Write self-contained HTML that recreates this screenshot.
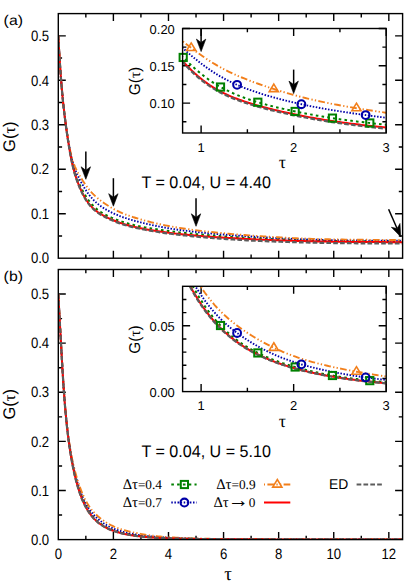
<!DOCTYPE html>
<html><head><meta charset="utf-8"><title>G(tau)</title>
<style>html,body{margin:0;padding:0;background:#fff}svg{display:block}text{fill:#000;text-rendering:geometricPrecision}</style>
</head><body>
<svg width="415" height="581" viewBox="0 0 415 581">
<rect width="415" height="581" fill="#fff"/>
<defs>
<clipPath id="ca"><rect x="58.30" y="13.60" width="344.30" height="244.60"/></clipPath>
<clipPath id="cb"><rect x="58.30" y="269.50" width="344.30" height="270.10"/></clipPath>
<clipPath id="cia"><rect x="182.60" y="28.50" width="203.60" height="104.50"/></clipPath>
<clipPath id="cib"><rect x="182.60" y="286.30" width="203.60" height="105.30"/></clipPath>
</defs>
<path d="M113.39,258.20v-7.5 M113.39,13.60v7.5 M168.48,258.20v-7.5 M168.48,13.60v7.5 M223.56,258.20v-7.5 M223.56,13.60v7.5 M278.65,258.20v-7.5 M278.65,13.60v7.5 M333.74,258.20v-7.5 M333.74,13.60v7.5 M388.83,258.20v-7.5 M388.83,13.60v7.5 M85.84,258.20v-3.8 M85.84,13.60v3.8 M140.93,258.20v-3.8 M140.93,13.60v3.8 M196.02,258.20v-3.8 M196.02,13.60v3.8 M251.11,258.20v-3.8 M251.11,13.60v3.8 M306.20,258.20v-3.8 M306.20,13.60v3.8 M361.28,258.20v-3.8 M361.28,13.60v3.8 M58.30,213.73h7.5 M402.60,213.73h-7.5 M58.30,169.25h7.5 M402.60,169.25h-7.5 M58.30,124.78h7.5 M402.60,124.78h-7.5 M58.30,80.31h7.5 M402.60,80.31h-7.5 M58.30,35.84h7.5 M402.60,35.84h-7.5 M58.30,235.96h3.8 M402.60,235.96h-3.8 M58.30,191.49h3.8 M402.60,191.49h-3.8 M58.30,147.02h3.8 M402.60,147.02h-3.8 M58.30,102.55h3.8 M402.60,102.55h-3.8 M58.30,58.07h3.8 M402.60,58.07h-3.8 " stroke="#000" stroke-width="1.4" fill="none"/>
<g clip-path="url(#ca)">
<path d="M58.30,35.77 L58.31,35.91 L58.33,36.31 L58.36,36.98 L58.41,37.92 L58.48,39.12 L58.56,40.57 L58.65,42.27 L58.76,44.20 L58.88,46.36 L59.02,48.73 L59.17,51.29 L59.33,54.05 L59.51,56.97 L59.71,60.04 L59.92,63.24 L60.14,66.57 L60.37,70.00 L60.63,73.51 L60.89,77.09 L61.17,80.72 L61.47,84.39 L61.77,88.07 L62.10,91.74 L62.43,95.40 L62.79,99.04 L63.15,102.63 L63.53,106.20 L63.93,109.73 L64.34,113.22 L64.76,116.70 L65.20,120.16 L65.65,123.60 L66.12,127.04 L66.60,130.46 L67.09,133.88 L67.60,137.29 L68.13,140.68 L68.67,144.05 L69.22,147.37 L69.79,150.63 L70.37,153.81 L70.96,156.87 L71.57,159.80 L72.20,162.60 L72.84,165.25 L73.49,167.75 L74.16,170.12 L74.84,172.36 L75.54,174.49 L76.25,176.50 L76.97,178.43 L77.71,180.28 L78.47,182.06 L79.23,183.79 L80.02,185.47 L80.81,187.11 L81.62,188.72 L82.45,190.31 L83.29,191.86 L84.14,193.39 L85.01,194.89 L85.90,196.34 L86.79,197.75 L87.70,199.11 L88.63,200.42 L89.57,201.66 L90.53,202.85 L91.49,203.98 L92.48,205.06 L93.48,206.08 L94.49,207.05 L95.51,207.98 L96.56,208.86 L97.61,209.70 L98.68,210.51 L99.76,211.28 L100.86,212.02 L101.98,212.73 L103.10,213.42 L104.24,214.08 L105.40,214.72 L106.57,215.34 L107.75,215.94 L108.95,216.52 L110.17,217.09 L111.39,217.64 L112.64,218.18 L113.89,218.71 L115.16,219.22 L116.45,219.73 L117.75,220.22 L119.06,220.70 L120.39,221.17 L121.73,221.63 L123.09,222.07 L124.46,222.50 L125.84,222.92 L127.24,223.33 L128.66,223.72 L130.09,224.11 L131.53,224.48 L132.99,224.84 L134.46,225.19 L135.95,225.53 L137.45,225.86 L138.96,226.18 L140.49,226.49 L142.03,226.80 L143.59,227.09 L145.16,227.39 L146.75,227.67 L148.35,227.96 L149.97,228.23 L151.60,228.50 L153.24,228.77 L154.90,229.04 L156.57,229.30 L158.26,229.56 L159.96,229.81 L161.67,230.06 L163.40,230.31 L165.15,230.55 L166.91,230.79 L168.68,231.03 L170.47,231.26 L172.27,231.49 L174.09,231.71 L175.92,231.94 L177.76,232.16 L179.62,232.37 L181.49,232.58 L183.38,232.79 L185.28,233.00 L187.20,233.20 L189.13,233.40 L191.08,233.60 L193.04,233.79 L195.01,233.98 L197.00,234.17 L199.00,234.36 L201.02,234.54 L203.05,234.72 L205.10,234.90 L207.16,235.07 L209.23,235.24 L211.32,235.41 L213.43,235.58 L215.54,235.75 L217.68,235.91 L219.82,236.07 L221.98,236.23 L224.16,236.38 L226.35,236.53 L228.55,236.68 L230.77,236.83 L233.00,236.97 L235.25,237.12 L237.51,237.26 L239.79,237.40 L242.08,237.53 L244.38,237.67 L246.70,237.80 L249.03,237.93 L251.38,238.06 L253.74,238.19 L256.12,238.31 L258.51,238.43 L260.91,238.55 L263.33,238.67 L265.77,238.79 L268.21,238.90 L270.68,239.02 L273.15,239.13 L275.64,239.24 L278.15,239.35 L280.67,239.45 L283.20,239.55 L285.75,239.65 L288.31,239.75 L290.89,239.84 L293.48,239.94 L296.09,240.02 L298.71,240.11 L301.34,240.19 L303.99,240.28 L306.66,240.35 L309.33,240.43 L312.03,240.50 L314.73,240.57 L317.45,240.63 L320.19,240.70 L322.94,240.76 L325.70,240.82 L328.48,240.87 L331.27,240.92 L334.08,240.97 L336.90,241.02 L339.74,241.06 L342.59,241.11 L345.45,241.15 L348.33,241.19 L351.22,241.22 L354.13,241.25 L357.05,241.29 L359.99,241.32 L362.94,241.34 L365.90,241.37 L368.88,241.40 L371.87,241.42 L374.88,241.44 L377.91,241.46 L380.94,241.48 L383.99,241.49 L387.06,241.51 L390.14,241.52 L393.23,241.54 L396.34,241.55 L399.46,241.56 L402.60,241.57" stroke="#008000" stroke-width="2" stroke-dasharray="2.6 3.2" fill="none"/>
<path d="M58.30,35.77 L58.31,35.91 L58.33,36.31 L58.36,36.98 L58.41,37.92 L58.48,39.12 L58.56,40.57 L58.65,42.27 L58.76,44.20 L58.88,46.36 L59.02,48.73 L59.17,51.29 L59.33,54.05 L59.51,56.97 L59.71,60.04 L59.92,63.24 L60.14,66.57 L60.37,70.00 L60.63,73.51 L60.89,77.09 L61.17,80.72 L61.47,84.39 L61.77,88.07 L62.10,91.75 L62.43,95.41 L62.79,99.04 L63.15,102.65 L63.53,106.21 L63.93,109.74 L64.34,113.23 L64.76,116.70 L65.20,120.14 L65.65,123.56 L66.12,126.95 L66.60,130.32 L67.09,133.66 L67.60,136.96 L68.13,140.21 L68.67,143.40 L69.22,146.52 L69.79,149.54 L70.37,152.44 L70.96,155.22 L71.57,157.84 L72.20,160.31 L72.84,162.63 L73.49,164.81 L74.16,166.84 L74.84,168.76 L75.54,170.57 L76.25,172.30 L76.97,173.97 L77.71,175.57 L78.47,177.14 L79.23,178.68 L80.02,180.19 L80.81,181.67 L81.62,183.14 L82.45,184.59 L83.29,186.03 L84.14,187.44 L85.01,188.83 L85.90,190.19 L86.79,191.53 L87.70,192.84 L88.63,194.11 L89.57,195.35 L90.53,196.55 L91.49,197.70 L92.48,198.81 L93.48,199.88 L94.49,200.91 L95.51,201.89 L96.56,202.83 L97.61,203.73 L98.68,204.60 L99.76,205.43 L100.86,206.22 L101.98,206.99 L103.10,207.73 L104.24,208.45 L105.40,209.15 L106.57,209.82 L107.75,210.48 L108.95,211.13 L110.17,211.76 L111.39,212.37 L112.64,212.97 L113.89,213.55 L115.16,214.13 L116.45,214.69 L117.75,215.23 L119.06,215.76 L120.39,216.28 L121.73,216.78 L123.09,217.27 L124.46,217.74 L125.84,218.20 L127.24,218.64 L128.66,219.08 L130.09,219.51 L131.53,219.93 L132.99,220.34 L134.46,220.75 L135.95,221.15 L137.45,221.54 L138.96,221.93 L140.49,222.32 L142.03,222.71 L143.59,223.09 L145.16,223.47 L146.75,223.85 L148.35,224.23 L149.97,224.60 L151.60,224.96 L153.24,225.33 L154.90,225.68 L156.57,226.03 L158.26,226.38 L159.96,226.72 L161.67,227.05 L163.40,227.37 L165.15,227.69 L166.91,228.00 L168.68,228.30 L170.47,228.59 L172.27,228.88 L174.09,229.16 L175.92,229.43 L177.76,229.69 L179.62,229.95 L181.49,230.20 L183.38,230.45 L185.28,230.69 L187.20,230.93 L189.13,231.16 L191.08,231.39 L193.04,231.61 L195.01,231.83 L197.00,232.04 L199.00,232.25 L201.02,232.46 L203.05,232.67 L205.10,232.87 L207.16,233.07 L209.23,233.26 L211.32,233.46 L213.43,233.65 L215.54,233.84 L217.68,234.02 L219.82,234.21 L221.98,234.39 L224.16,234.57 L226.35,234.74 L228.55,234.92 L230.77,235.09 L233.00,235.26 L235.25,235.43 L237.51,235.59 L239.79,235.76 L242.08,235.92 L244.38,236.08 L246.70,236.24 L249.03,236.40 L251.38,236.55 L253.74,236.71 L256.12,236.86 L258.51,237.01 L260.91,237.16 L263.33,237.31 L265.77,237.45 L268.21,237.60 L270.68,237.74 L273.15,237.88 L275.64,238.01 L278.15,238.15 L280.67,238.28 L283.20,238.41 L285.75,238.53 L288.31,238.65 L290.89,238.77 L293.48,238.89 L296.09,239.00 L298.71,239.10 L301.34,239.21 L303.99,239.31 L306.66,239.40 L309.33,239.49 L312.03,239.58 L314.73,239.67 L317.45,239.74 L320.19,239.82 L322.94,239.89 L325.70,239.96 L328.48,240.02 L331.27,240.08 L334.08,240.14 L336.90,240.20 L339.74,240.25 L342.59,240.29 L345.45,240.34 L348.33,240.38 L351.22,240.42 L354.13,240.45 L357.05,240.49 L359.99,240.52 L362.94,240.55 L365.90,240.58 L368.88,240.60 L371.87,240.62 L374.88,240.65 L377.91,240.67 L380.94,240.68 L383.99,240.70 L387.06,240.72 L390.14,240.73 L393.23,240.74 L396.34,240.75 L399.46,240.77 L402.60,240.78" stroke="#0000a8" stroke-width="1.9" stroke-dasharray="1.5 1.6" fill="none"/>
<path d="M58.30,35.77 L58.31,35.91 L58.33,36.31 L58.36,36.98 L58.41,37.92 L58.48,39.12 L58.56,40.57 L58.65,42.27 L58.76,44.20 L58.88,46.36 L59.02,48.73 L59.17,51.29 L59.33,54.05 L59.51,56.97 L59.71,60.04 L59.92,63.24 L60.14,66.57 L60.37,70.00 L60.63,73.51 L60.89,77.09 L61.17,80.73 L61.47,84.39 L61.77,88.07 L62.10,91.75 L62.43,95.42 L62.79,99.05 L63.15,102.66 L63.53,106.22 L63.93,109.75 L64.34,113.24 L64.76,116.69 L65.20,120.12 L65.65,123.51 L66.12,126.87 L66.60,130.18 L67.09,133.44 L67.60,136.63 L68.13,139.76 L68.67,142.80 L69.22,145.75 L69.79,148.58 L70.37,151.29 L70.96,153.87 L71.57,156.30 L72.20,158.59 L72.84,160.73 L73.49,162.74 L74.16,164.61 L74.84,166.36 L75.54,168.00 L76.25,169.54 L76.97,171.00 L77.71,172.40 L78.47,173.74 L79.23,175.05 L80.02,176.34 L80.81,177.61 L81.62,178.88 L82.45,180.16 L83.29,181.43 L84.14,182.70 L85.01,183.97 L85.90,185.22 L86.79,186.46 L87.70,187.69 L88.63,188.89 L89.57,190.05 L90.53,191.19 L91.49,192.29 L92.48,193.36 L93.48,194.39 L94.49,195.38 L95.51,196.34 L96.56,197.27 L97.61,198.17 L98.68,199.05 L99.76,199.90 L100.86,200.74 L101.98,201.56 L103.10,202.37 L104.24,203.17 L105.40,203.96 L106.57,204.74 L107.75,205.50 L108.95,206.25 L110.17,206.99 L111.39,207.71 L112.64,208.42 L113.89,209.11 L115.16,209.78 L116.45,210.44 L117.75,211.08 L119.06,211.70 L120.39,212.30 L121.73,212.89 L123.09,213.45 L124.46,214.01 L125.84,214.54 L127.24,215.06 L128.66,215.57 L130.09,216.07 L131.53,216.56 L132.99,217.04 L134.46,217.51 L135.95,217.98 L137.45,218.44 L138.96,218.89 L140.49,219.34 L142.03,219.78 L143.59,220.21 L145.16,220.64 L146.75,221.07 L148.35,221.49 L149.97,221.90 L151.60,222.31 L153.24,222.71 L154.90,223.11 L156.57,223.50 L158.26,223.88 L159.96,224.25 L161.67,224.62 L163.40,224.98 L165.15,225.34 L166.91,225.68 L168.68,226.02 L170.47,226.35 L172.27,226.68 L174.09,227.00 L175.92,227.31 L177.76,227.61 L179.62,227.91 L181.49,228.20 L183.38,228.49 L185.28,228.77 L187.20,229.04 L189.13,229.31 L191.08,229.58 L193.04,229.84 L195.01,230.10 L197.00,230.35 L199.00,230.60 L201.02,230.84 L203.05,231.08 L205.10,231.32 L207.16,231.56 L209.23,231.79 L211.32,232.01 L213.43,232.23 L215.54,232.45 L217.68,232.67 L219.82,232.88 L221.98,233.09 L224.16,233.30 L226.35,233.50 L228.55,233.70 L230.77,233.90 L233.00,234.10 L235.25,234.29 L237.51,234.48 L239.79,234.66 L242.08,234.85 L244.38,235.03 L246.70,235.21 L249.03,235.38 L251.38,235.56 L253.74,235.73 L256.12,235.90 L258.51,236.06 L260.91,236.23 L263.33,236.39 L265.77,236.55 L268.21,236.71 L270.68,236.86 L273.15,237.01 L275.64,237.16 L278.15,237.31 L280.67,237.45 L283.20,237.59 L285.75,237.72 L288.31,237.85 L290.89,237.98 L293.48,238.10 L296.09,238.22 L298.71,238.33 L301.34,238.44 L303.99,238.55 L306.66,238.65 L309.33,238.74 L312.03,238.83 L314.73,238.92 L317.45,239.00 L320.19,239.08 L322.94,239.15 L325.70,239.22 L328.48,239.28 L331.27,239.34 L334.08,239.40 L336.90,239.45 L339.74,239.50 L342.59,239.55 L345.45,239.59 L348.33,239.63 L351.22,239.67 L354.13,239.70 L357.05,239.73 L359.99,239.76 L362.94,239.79 L365.90,239.81 L368.88,239.84 L371.87,239.86 L374.88,239.88 L377.91,239.89 L380.94,239.91 L383.99,239.92 L387.06,239.94 L390.14,239.95 L393.23,239.96 L396.34,239.97 L399.46,239.98 L402.60,239.99" stroke="#f27f1b" stroke-width="1.9" stroke-dasharray="6.7 2.4 1.3 2.2 1.3 2.3" fill="none"/>
<path d="M58.30,35.77 L58.31,35.91 L58.33,36.31 L58.36,36.98 L58.41,37.92 L58.48,39.12 L58.56,40.57 L58.65,42.27 L58.76,44.20 L58.88,46.36 L59.02,48.73 L59.17,51.29 L59.33,54.05 L59.51,56.97 L59.71,60.04 L59.92,63.24 L60.14,66.57 L60.37,70.00 L60.63,73.51 L60.89,77.09 L61.17,80.72 L61.47,84.39 L61.77,88.07 L62.10,91.74 L62.43,95.40 L62.79,99.03 L63.15,102.63 L63.53,106.19 L63.93,109.72 L64.34,113.22 L64.76,116.70 L65.20,120.17 L65.65,123.63 L66.12,127.08 L66.60,130.53 L67.09,133.99 L67.60,137.44 L68.13,140.88 L68.67,144.31 L69.22,147.70 L69.79,151.03 L70.37,154.29 L70.96,157.45 L71.57,160.48 L72.20,163.38 L72.84,166.14 L73.49,168.77 L74.16,171.26 L74.84,173.63 L75.54,175.89 L76.25,178.06 L76.97,180.14 L77.71,182.16 L78.47,184.11 L79.23,186.01 L80.02,187.86 L80.81,189.65 L81.62,191.40 L82.45,193.09 L83.29,194.73 L84.14,196.32 L85.01,197.84 L85.90,199.30 L86.79,200.69 L87.70,202.02 L88.63,203.28 L89.57,204.47 L90.53,205.60 L91.49,206.66 L92.48,207.67 L93.48,208.62 L94.49,209.52 L95.51,210.37 L96.56,211.18 L97.61,211.96 L98.68,212.69 L99.76,213.40 L100.86,214.08 L101.98,214.74 L103.10,215.38 L104.24,216.00 L105.40,216.60 L106.57,217.20 L107.75,217.78 L108.95,218.34 L110.17,218.90 L111.39,219.45 L112.64,219.98 L113.89,220.51 L115.16,221.02 L116.45,221.52 L117.75,222.01 L119.06,222.49 L120.39,222.95 L121.73,223.40 L123.09,223.84 L124.46,224.26 L125.84,224.67 L127.24,225.07 L128.66,225.46 L130.09,225.83 L131.53,226.20 L132.99,226.55 L134.46,226.90 L135.95,227.23 L137.45,227.56 L138.96,227.89 L140.49,228.20 L142.03,228.51 L143.59,228.81 L145.16,229.11 L146.75,229.40 L148.35,229.69 L149.97,229.97 L151.60,230.24 L153.24,230.51 L154.90,230.78 L156.57,231.04 L158.26,231.30 L159.96,231.55 L161.67,231.80 L163.40,232.04 L165.15,232.28 L166.91,232.51 L168.68,232.74 L170.47,232.97 L172.27,233.19 L174.09,233.40 L175.92,233.62 L177.76,233.83 L179.62,234.03 L181.49,234.23 L183.38,234.43 L185.28,234.62 L187.20,234.81 L189.13,235.00 L191.08,235.18 L193.04,235.36 L195.01,235.54 L197.00,235.71 L199.00,235.88 L201.02,236.05 L203.05,236.21 L205.10,236.38 L207.16,236.53 L209.23,236.69 L211.32,236.85 L213.43,237.00 L215.54,237.15 L217.68,237.29 L219.82,237.44 L221.98,237.58 L224.16,237.72 L226.35,237.85 L228.55,237.99 L230.77,238.12 L233.00,238.25 L235.25,238.37 L237.51,238.50 L239.79,238.62 L242.08,238.74 L244.38,238.86 L246.70,238.98 L249.03,239.09 L251.38,239.20 L253.74,239.31 L256.12,239.42 L258.51,239.53 L260.91,239.64 L263.33,239.74 L265.77,239.84 L268.21,239.94 L270.68,240.04 L273.15,240.14 L275.64,240.23 L278.15,240.32 L280.67,240.41 L283.20,240.50 L285.75,240.59 L288.31,240.67 L290.89,240.75 L293.48,240.83 L296.09,240.91 L298.71,240.98 L301.34,241.05 L303.99,241.12 L306.66,241.19 L309.33,241.25 L312.03,241.31 L314.73,241.37 L317.45,241.42 L320.19,241.48 L322.94,241.53 L325.70,241.57 L328.48,241.62 L331.27,241.66 L334.08,241.70 L336.90,241.74 L339.74,241.78 L342.59,241.81 L345.45,241.84 L348.33,241.87 L351.22,241.90 L354.13,241.93 L357.05,241.95 L359.99,241.98 L362.94,242.00 L365.90,242.02 L368.88,242.04 L371.87,242.06 L374.88,242.07 L377.91,242.09 L380.94,242.10 L383.99,242.11 L387.06,242.13 L390.14,242.14 L393.23,242.15 L396.34,242.16 L399.46,242.16 L402.60,242.17" stroke="#ff0000" stroke-width="2" fill="none"/>
<path d="M58.30,35.77 L58.31,35.91 L58.33,36.31 L58.36,36.99 L58.41,37.93 L58.48,39.13 L58.56,40.58 L58.65,42.28 L58.76,44.21 L58.88,46.38 L59.02,48.75 L59.17,51.32 L59.33,54.07 L59.51,57.00 L59.71,60.08 L59.92,63.29 L60.14,66.62 L60.37,70.06 L60.63,73.58 L60.89,77.17 L61.17,80.81 L61.47,84.48 L61.77,88.16 L62.10,91.85 L62.43,95.52 L62.79,99.16 L63.15,102.77 L63.53,106.34 L63.93,109.88 L64.34,113.39 L64.76,116.89 L65.20,120.37 L65.65,123.84 L66.12,127.30 L66.60,130.77 L67.09,134.23 L67.60,137.70 L68.13,141.16 L68.67,144.60 L69.22,148.01 L69.79,151.36 L70.37,154.63 L70.96,157.81 L71.57,160.86 L72.20,163.78 L72.84,166.55 L73.49,169.20 L74.16,171.71 L74.84,174.10 L75.54,176.38 L76.25,178.56 L76.97,180.67 L77.71,182.71 L78.47,184.68 L79.23,186.60 L80.02,188.47 L80.81,190.27 L81.62,192.02 L82.45,193.72 L83.29,195.36 L84.14,196.94 L85.01,198.46 L85.90,199.92 L86.79,201.31 L87.70,202.64 L88.63,203.90 L89.57,205.09 L90.53,206.22 L91.49,207.29 L92.48,208.29 L93.48,209.24 L94.49,210.14 L95.51,211.00 L96.56,211.81 L97.61,212.58 L98.68,213.32 L99.76,214.02 L100.86,214.70 L101.98,215.36 L103.10,216.00 L104.24,216.62 L105.40,217.23 L106.57,217.82 L107.75,218.40 L108.95,218.97 L110.17,219.52 L111.39,220.07 L112.64,220.60 L113.89,221.13 L115.16,221.64 L116.45,222.15 L117.75,222.63 L119.06,223.11 L120.39,223.57 L121.73,224.02 L123.09,224.46 L124.46,224.88 L125.84,225.29 L127.24,225.69 L128.66,226.08 L130.09,226.45 L131.53,226.82 L132.99,227.17 L134.46,227.52 L135.95,227.86 L137.45,228.19 L138.96,228.51 L140.49,228.82 L142.03,229.14 L143.59,229.45 L145.16,229.76 L146.75,230.06 L148.35,230.36 L149.97,230.65 L151.60,230.93 L153.24,231.22 L154.90,231.49 L156.57,231.76 L158.26,232.03 L159.96,232.29 L161.67,232.55 L163.40,232.81 L165.15,233.06 L166.91,233.30 L168.68,233.54 L170.47,233.78 L172.27,234.01 L174.09,234.24 L175.92,234.47 L177.76,234.69 L179.62,234.90 L181.49,235.12 L183.38,235.32 L185.28,235.53 L187.20,235.73 L189.13,235.93 L191.08,236.13 L193.04,236.32 L195.01,236.51 L197.00,236.69 L199.00,236.88 L201.02,237.06 L203.05,237.24 L205.10,237.41 L207.16,237.58 L209.23,237.75 L211.32,237.92 L213.43,238.09 L215.54,238.25 L217.68,238.41 L219.82,238.57 L221.98,238.72 L224.16,238.88 L226.35,239.03 L228.55,239.17 L230.77,239.32 L233.00,239.46 L235.25,239.60 L237.51,239.74 L239.79,239.88 L242.08,240.02 L244.38,240.15 L246.70,240.28 L249.03,240.41 L251.38,240.54 L253.74,240.65 L256.12,240.76 L258.51,240.86 L260.91,240.97 L263.33,241.07 L265.77,241.18 L268.21,241.28 L270.68,241.37 L273.15,241.47 L275.64,241.57 L278.15,241.66 L280.67,241.75 L283.20,241.84 L285.75,241.92 L288.31,242.01 L290.89,242.09 L293.48,242.17 L296.09,242.24 L298.71,242.32 L301.34,242.39 L303.99,242.46 L306.66,242.52 L309.33,242.59 L312.03,242.65 L314.73,242.70 L317.45,242.76 L320.19,242.81 L322.94,242.86 L325.70,242.91 L328.48,242.95 L331.27,243.00 L334.08,243.04 L336.90,243.08 L339.74,243.11 L342.59,243.15 L345.45,243.18 L348.33,243.21 L351.22,243.24 L354.13,243.26 L357.05,243.29 L359.99,243.31 L362.94,243.33 L365.90,243.35 L368.88,243.37 L371.87,243.39 L374.88,243.41 L377.91,243.42 L380.94,243.44 L383.99,243.45 L387.06,243.46 L390.14,243.47 L393.23,243.48 L396.34,243.49 L399.46,243.50 L402.60,243.51" stroke="#5c5c5c" stroke-width="2.2" stroke-dasharray="4.7 2.15" fill="none"/>
</g>
<rect x="58.30" y="13.60" width="344.30" height="244.60" fill="none" stroke="#000" stroke-width="1.4"/>
<text transform="translate(49.20,263.40) scale(0.94,1.07)" font-size="14" text-anchor="end" font-family="Liberation Sans, sans-serif" >0.0</text>
<text transform="translate(49.20,218.93) scale(0.94,1.07)" font-size="14" text-anchor="end" font-family="Liberation Sans, sans-serif" >0.1</text>
<text transform="translate(49.20,174.45) scale(0.94,1.07)" font-size="14" text-anchor="end" font-family="Liberation Sans, sans-serif" >0.2</text>
<text transform="translate(49.20,129.98) scale(0.94,1.07)" font-size="14" text-anchor="end" font-family="Liberation Sans, sans-serif" >0.3</text>
<text transform="translate(49.20,85.51) scale(0.94,1.07)" font-size="14" text-anchor="end" font-family="Liberation Sans, sans-serif" >0.4</text>
<text transform="translate(49.20,41.04) scale(0.94,1.07)" font-size="14" text-anchor="end" font-family="Liberation Sans, sans-serif" >0.5</text>
<text transform="translate(13.30,25.00) scale(1.13,1.0)" font-size="14" text-anchor="middle" font-family="Liberation Sans, sans-serif" >(a)</text>
<g transform="translate(15.4,136.7) rotate(-90)"><text transform="translate(0.00,0.00) scale(1.03,1.05)" font-size="16" text-anchor="middle" font-family="Liberation Sans, sans-serif" >G(<tspan font-family="Liberation Serif, serif" font-size="16">τ</tspan>)</text></g>
<text transform="translate(141.50,187.90) scale(1.005,1.05)" font-size="16" text-anchor="start" font-family="Liberation Sans, sans-serif" >T = 0.04, U = 4.40</text>
<path d="M85.84,151.50 L85.84,170.30" stroke="#000" stroke-width="1.5" fill="none"/><path d="M85.84,179.30 L81.14,166.80 L85.84,170.30 L90.54,166.80 Z" fill="#000" stroke="#000" stroke-width="0.6" stroke-linejoin="miter"/>
<path d="M113.39,178.20 L113.39,197.20" stroke="#000" stroke-width="1.5" fill="none"/><path d="M113.39,206.20 L108.69,193.70 L113.39,197.20 L118.09,193.70 Z" fill="#000" stroke="#000" stroke-width="0.6" stroke-linejoin="miter"/>
<path d="M196.02,198.20 L196.02,217.30" stroke="#000" stroke-width="1.5" fill="none"/><path d="M196.02,226.30 L191.32,213.80 L196.02,217.30 L200.72,213.80 Z" fill="#000" stroke="#000" stroke-width="0.6" stroke-linejoin="miter"/>
<path d="M388.60,209.20 L397.09,228.56" stroke="#000" stroke-width="1.5" fill="none"/><path d="M400.70,236.80 L391.38,227.24 L397.09,228.56 L399.99,223.46 Z" fill="#000" stroke="#000" stroke-width="0.6" stroke-linejoin="miter"/>
<rect x="182.6" y="28.5" width="203.6" height="104.5" fill="#fff"/>
<path d="M201.11,133.00v-7.5 M201.11,28.50v7.5 M293.65,133.00v-7.5 M293.65,28.50v7.5 M386.20,133.00v-7.5 M386.20,28.50v7.5 M247.38,133.00v-3.8 M247.38,28.50v3.8 M339.93,133.00v-3.8 M339.93,28.50v3.8 M182.60,103.14h7.5 M386.20,103.14h-7.5 M182.60,65.82h7.5 M386.20,65.82h-7.5 M182.60,28.50h7.5 M386.20,28.50h-7.5 M182.60,121.80h3.8 M386.20,121.80h-3.8 M182.60,84.48h3.8 M386.20,84.48h-3.8 M182.60,47.16h3.8 M386.20,47.16h-3.8 " stroke="#000" stroke-width="1.4" fill="none"/>
<g clip-path="url(#cia)">
<path d="M173.35,46.47 L175.79,49.39 L178.23,52.16 L180.68,54.81 L183.12,57.37 L185.56,59.83 L188.01,62.22 L190.45,64.53 L192.89,66.78 L195.34,68.96 L197.78,71.07 L200.23,73.11 L202.67,75.07 L205.11,76.95 L207.56,78.75 L210.00,80.48 L212.44,82.12 L214.89,83.69 L217.33,85.19 L219.77,86.61 L222.22,87.96 L224.66,89.25 L227.11,90.48 L229.55,91.66 L231.99,92.78 L234.44,93.85 L236.88,94.88 L239.32,95.87 L241.77,96.82 L244.21,97.73 L246.65,98.60 L249.10,99.45 L251.54,100.26 L253.98,101.05 L256.43,101.81 L258.87,102.55 L261.32,103.27 L263.76,103.96 L266.20,104.64 L268.65,105.29 L271.09,105.93 L273.53,106.55 L275.98,107.16 L278.42,107.75 L280.86,108.33 L283.31,108.89 L285.75,109.44 L288.20,109.98 L290.64,110.51 L293.08,111.02 L295.53,111.53 L297.97,112.04 L300.41,112.53 L302.86,113.01 L305.30,113.48 L307.74,113.94 L310.19,114.39 L312.63,114.84 L315.08,115.27 L317.52,115.70 L319.96,116.11 L322.41,116.52 L324.85,116.92 L327.29,117.31 L329.74,117.70 L332.18,118.08 L334.62,118.44 L337.07,118.81 L339.51,119.16 L341.95,119.51 L344.40,119.84 L346.84,120.18 L349.29,120.50 L351.73,120.82 L354.17,121.13 L356.62,121.44 L359.06,121.74 L361.50,122.03 L363.95,122.32 L366.39,122.60 L368.83,122.88 L371.28,123.15 L373.72,123.42 L376.17,123.68 L378.61,123.94 L381.05,124.19 L383.50,124.44 L385.94,124.69 L388.38,124.93 L390.83,125.17" stroke="#008000" stroke-width="2" stroke-dasharray="2.6 3.2" fill="none"/>
<path d="M173.35,38.64 L175.79,41.20 L178.23,43.66 L180.68,46.04 L183.12,48.34 L185.56,50.58 L188.01,52.77 L190.45,54.89 L192.89,56.96 L195.34,58.97 L197.78,60.93 L200.23,62.84 L202.67,64.69 L205.11,66.48 L207.56,68.22 L210.00,69.90 L212.44,71.53 L214.89,73.10 L217.33,74.60 L219.77,76.06 L222.22,77.45 L224.66,78.80 L227.11,80.09 L229.55,81.33 L231.99,82.52 L234.44,83.66 L236.88,84.76 L239.32,85.81 L241.77,86.83 L244.21,87.81 L246.65,88.75 L249.10,89.66 L251.54,90.54 L253.98,91.39 L256.43,92.21 L258.87,93.01 L261.32,93.78 L263.76,94.54 L266.20,95.27 L268.65,95.99 L271.09,96.69 L273.53,97.37 L275.98,98.04 L278.42,98.69 L280.86,99.33 L283.31,99.96 L285.75,100.57 L288.20,101.17 L290.64,101.75 L293.08,102.33 L295.53,102.89 L297.97,103.45 L300.41,103.99 L302.86,104.53 L305.30,105.05 L307.74,105.56 L310.19,106.06 L312.63,106.55 L315.08,107.02 L317.52,107.49 L319.96,107.95 L322.41,108.40 L324.85,108.83 L327.29,109.26 L329.74,109.68 L332.18,110.10 L334.62,110.50 L337.07,110.90 L339.51,111.29 L341.95,111.67 L344.40,112.04 L346.84,112.41 L349.29,112.78 L351.73,113.13 L354.17,113.49 L356.62,113.83 L359.06,114.18 L361.50,114.52 L363.95,114.85 L366.39,115.18 L368.83,115.51 L371.28,115.84 L373.72,116.16 L376.17,116.48 L378.61,116.79 L381.05,117.11 L383.50,117.42 L385.94,117.73 L388.38,118.03 L390.83,118.34" stroke="#0000a8" stroke-width="1.9" stroke-dasharray="1.5 1.6" fill="none"/>
<path d="M173.35,33.37 L175.79,35.57 L178.23,37.67 L180.68,39.70 L183.12,41.67 L185.56,43.60 L188.01,45.49 L190.45,47.36 L192.89,49.21 L195.34,51.02 L197.78,52.81 L200.23,54.56 L202.67,56.27 L205.11,57.94 L207.56,59.57 L210.00,61.15 L212.44,62.68 L214.89,64.17 L217.33,65.60 L219.77,66.99 L222.22,68.33 L224.66,69.62 L227.11,70.86 L229.55,72.06 L231.99,73.22 L234.44,74.34 L236.88,75.43 L239.32,76.48 L241.77,77.50 L244.21,78.49 L246.65,79.46 L249.10,80.41 L251.54,81.33 L253.98,82.24 L256.43,83.13 L258.87,84.01 L261.32,84.87 L263.76,85.71 L266.20,86.54 L268.65,87.36 L271.09,88.16 L273.53,88.95 L275.98,89.73 L278.42,90.49 L280.86,91.24 L283.31,91.98 L285.75,92.70 L288.20,93.40 L290.64,94.09 L293.08,94.77 L295.53,95.44 L297.97,96.09 L300.41,96.73 L302.86,97.36 L305.30,97.97 L307.74,98.57 L310.19,99.15 L312.63,99.72 L315.08,100.28 L317.52,100.83 L319.96,101.36 L322.41,101.89 L324.85,102.40 L327.29,102.90 L329.74,103.39 L332.18,103.87 L334.62,104.34 L337.07,104.80 L339.51,105.26 L341.95,105.70 L344.40,106.14 L346.84,106.57 L349.29,107.00 L351.73,107.42 L354.17,107.83 L356.62,108.23 L359.06,108.63 L361.50,109.03 L363.95,109.42 L366.39,109.80 L368.83,110.18 L371.28,110.56 L373.72,110.93 L376.17,111.30 L378.61,111.66 L381.05,112.02 L383.50,112.38 L385.94,112.73 L388.38,113.08 L390.83,113.43" stroke="#f27f1b" stroke-width="1.9" stroke-dasharray="6.7 2.4 1.3 2.2 1.3 2.3" fill="none"/>
<path d="M173.35,49.57 L175.79,52.77 L178.23,55.81 L180.68,58.73 L183.12,61.53 L185.56,64.21 L188.01,66.79 L190.45,69.25 L192.89,71.61 L195.34,73.87 L197.78,76.02 L200.23,78.07 L202.67,80.02 L205.11,81.87 L207.56,83.63 L210.00,85.29 L212.44,86.87 L214.89,88.36 L217.33,89.78 L219.77,91.12 L222.22,92.39 L224.66,93.59 L227.11,94.74 L229.55,95.82 L231.99,96.86 L234.44,97.85 L236.88,98.79 L239.32,99.70 L241.77,100.56 L244.21,101.40 L246.65,102.20 L249.10,102.98 L251.54,103.73 L253.98,104.45 L256.43,105.16 L258.87,105.85 L261.32,106.52 L263.76,107.17 L266.20,107.81 L268.65,108.44 L271.09,109.05 L273.53,109.65 L275.98,110.24 L278.42,110.81 L280.86,111.38 L283.31,111.94 L285.75,112.48 L288.20,113.01 L290.64,113.54 L293.08,114.05 L295.53,114.56 L297.97,115.05 L300.41,115.54 L302.86,116.02 L305.30,116.49 L307.74,116.94 L310.19,117.39 L312.63,117.83 L315.08,118.26 L317.52,118.68 L319.96,119.09 L322.41,119.50 L324.85,119.89 L327.29,120.27 L329.74,120.65 L332.18,121.02 L334.62,121.38 L337.07,121.73 L339.51,122.08 L341.95,122.42 L344.40,122.75 L346.84,123.08 L349.29,123.40 L351.73,123.71 L354.17,124.02 L356.62,124.32 L359.06,124.61 L361.50,124.90 L363.95,125.19 L366.39,125.47 L368.83,125.75 L371.28,126.02 L373.72,126.28 L376.17,126.55 L378.61,126.81 L381.05,127.06 L383.50,127.31 L385.94,127.56 L388.38,127.80 L390.83,128.05" stroke="#ff0000" stroke-width="2" fill="none"/>
<path d="M173.35,50.49 L175.79,53.71 L178.23,56.80 L180.68,59.75 L183.12,62.58 L185.56,65.26 L188.01,67.83 L190.45,70.30 L192.89,72.66 L195.34,74.91 L197.78,77.07 L200.23,79.12 L202.67,81.06 L205.11,82.92 L207.56,84.67 L210.00,86.34 L212.44,87.92 L214.89,89.41 L217.33,90.82 L219.77,92.16 L222.22,93.43 L224.66,94.64 L227.11,95.78 L229.55,96.87 L231.99,97.91 L234.44,98.89 L236.88,99.84 L239.32,100.74 L241.77,101.61 L244.21,102.44 L246.65,103.25 L249.10,104.02 L251.54,104.77 L253.98,105.50 L256.43,106.21 L258.87,106.89 L261.32,107.56 L263.76,108.22 L266.20,108.86 L268.65,109.48 L271.09,110.09 L273.53,110.69 L275.98,111.28 L278.42,111.86 L280.86,112.43 L283.31,112.98 L285.75,113.52 L288.20,114.06 L290.64,114.58 L293.08,115.10 L295.53,115.60 L297.97,116.10 L300.41,116.59 L302.86,117.06 L305.30,117.53 L307.74,117.99 L310.19,118.44 L312.63,118.88 L315.08,119.31 L317.52,119.73 L319.96,120.14 L322.41,120.54 L324.85,120.93 L327.29,121.32 L329.74,121.70 L332.18,122.06 L334.62,122.43 L337.07,122.78 L339.51,123.13 L341.95,123.46 L344.40,123.80 L346.84,124.12 L349.29,124.44 L351.73,124.75 L354.17,125.06 L356.62,125.36 L359.06,125.66 L361.50,125.95 L363.95,126.23 L366.39,126.51 L368.83,126.79 L371.28,127.06 L373.72,127.33 L376.17,127.59 L378.61,127.85 L381.05,128.11 L383.50,128.36 L385.94,128.61 L388.38,128.86 L390.83,129.11" stroke="#5c5c5c" stroke-width="2.2" stroke-dasharray="4.7 2.15" fill="none"/>
</g>
<rect x="179.60" y="53.85" width="7.2" height="7.2" fill="none" stroke="#008000" stroke-width="2"/>
<rect x="216.91" y="83.43" width="7.2" height="7.2" fill="none" stroke="#008000" stroke-width="2"/>
<rect x="254.23" y="98.64" width="7.2" height="7.2" fill="none" stroke="#008000" stroke-width="2"/>
<rect x="291.55" y="107.86" width="7.2" height="7.2" fill="none" stroke="#008000" stroke-width="2"/>
<rect x="328.86" y="114.52" width="7.2" height="7.2" fill="none" stroke="#008000" stroke-width="2"/>
<rect x="366.18" y="119.39" width="7.2" height="7.2" fill="none" stroke="#008000" stroke-width="2"/>
<circle cx="237.10" cy="84.85" r="3.9" fill="none" stroke="#0000a8" stroke-width="2.05"/>
<circle cx="301.37" cy="104.20" r="3.9" fill="none" stroke="#0000a8" stroke-width="2.05"/>
<circle cx="365.63" cy="115.08" r="3.9" fill="none" stroke="#0000a8" stroke-width="2.05"/>
<path d="M191.19,42.93 L195.79,50.53 L186.59,50.53 Z" fill="none" stroke="#f27f1b" stroke-width="1.6" stroke-linejoin="miter"/>
<path d="M273.82,84.05 L278.42,91.65 L269.22,91.65 Z" fill="none" stroke="#f27f1b" stroke-width="1.6" stroke-linejoin="miter"/>
<path d="M356.45,103.21 L361.05,110.81 L351.85,110.81 Z" fill="none" stroke="#f27f1b" stroke-width="1.6" stroke-linejoin="miter"/>
<rect x="182.60" y="28.50" width="203.60" height="104.50" fill="none" stroke="#000" stroke-width="1.4"/>
<text transform="translate(174.80,108.24) scale(0.925,0.92)" font-size="14" text-anchor="end" font-family="Liberation Sans, sans-serif" >0.10</text>
<text transform="translate(174.80,70.92) scale(0.925,0.92)" font-size="14" text-anchor="end" font-family="Liberation Sans, sans-serif" >0.15</text>
<text transform="translate(174.80,33.60) scale(0.925,0.92)" font-size="14" text-anchor="end" font-family="Liberation Sans, sans-serif" >0.20</text>
<text transform="translate(201.11,151.70) scale(0.925,0.92)" font-size="14" text-anchor="middle" font-family="Liberation Sans, sans-serif" >1</text>
<text transform="translate(293.65,151.70) scale(0.925,0.92)" font-size="14" text-anchor="middle" font-family="Liberation Sans, sans-serif" >2</text>
<text transform="translate(386.20,151.70) scale(0.925,0.92)" font-size="14" text-anchor="middle" font-family="Liberation Sans, sans-serif" >3</text>
<text transform="translate(282.30,168.00) scale(1.0,1.0)" font-size="18" text-anchor="middle" font-family="Liberation Serif, serif" >τ</text>
<g transform="translate(139.6,81.0) rotate(-90)"><text transform="translate(0.00,0.00) scale(1.03,1.04)" font-size="15" text-anchor="middle" font-family="Liberation Sans, sans-serif" >G(<tspan font-family="Liberation Serif, serif" font-size="15">τ</tspan>)</text></g>
<path d="M201.11,28.50 L201.11,42.60" stroke="#000" stroke-width="1.5" fill="none"/><path d="M201.11,51.60 L196.41,39.10 L201.11,42.60 L205.81,39.10 Z" fill="#000" stroke="#000" stroke-width="0.6" stroke-linejoin="miter"/>
<path d="M293.65,69.60 L293.65,84.60" stroke="#000" stroke-width="1.5" fill="none"/><path d="M293.65,93.60 L288.95,81.10 L293.65,84.60 L298.35,81.10 Z" fill="#000" stroke="#000" stroke-width="0.6" stroke-linejoin="miter"/>
<path d="M113.39,539.60v-7.5 M113.39,269.50v7.5 M168.48,539.60v-7.5 M168.48,269.50v7.5 M223.56,539.60v-7.5 M223.56,269.50v7.5 M278.65,539.60v-7.5 M278.65,269.50v7.5 M333.74,539.60v-7.5 M333.74,269.50v7.5 M388.83,539.60v-7.5 M388.83,269.50v7.5 M85.84,539.60v-3.8 M85.84,269.50v3.8 M140.93,539.60v-3.8 M140.93,269.50v3.8 M196.02,539.60v-3.8 M196.02,269.50v3.8 M251.11,539.60v-3.8 M251.11,269.50v3.8 M306.20,539.60v-3.8 M306.20,269.50v3.8 M361.28,539.60v-3.8 M361.28,269.50v3.8 M58.30,490.49h7.5 M402.60,490.49h-7.5 M58.30,441.38h7.5 M402.60,441.38h-7.5 M58.30,392.27h7.5 M402.60,392.27h-7.5 M58.30,343.16h7.5 M402.60,343.16h-7.5 M58.30,294.05h7.5 M402.60,294.05h-7.5 M58.30,515.05h3.8 M402.60,515.05h-3.8 M58.30,465.94h3.8 M402.60,465.94h-3.8 M58.30,416.83h3.8 M402.60,416.83h-3.8 M58.30,367.72h3.8 M402.60,367.72h-3.8 M58.30,318.61h3.8 M402.60,318.61h-3.8 " stroke="#000" stroke-width="1.4" fill="none"/>
<g clip-path="url(#cb)">
<path d="M58.30,294.15 L58.31,294.29 L58.33,294.69 L58.36,295.36 L58.41,296.29 L58.48,297.48 L58.56,298.94 L58.65,300.67 L58.76,302.66 L58.88,304.91 L59.02,307.42 L59.17,310.19 L59.33,313.22 L59.51,316.51 L59.71,320.05 L59.92,323.85 L60.14,327.88 L60.37,332.16 L60.63,336.68 L60.89,341.43 L61.17,346.41 L61.47,351.61 L61.77,357.04 L62.10,362.65 L62.43,368.41 L62.79,374.25 L63.15,380.11 L63.53,385.92 L63.93,391.64 L64.34,397.22 L64.76,402.64 L65.20,407.89 L65.65,412.96 L66.12,417.86 L66.60,422.60 L67.09,427.18 L67.60,431.62 L68.13,435.91 L68.67,440.06 L69.22,444.07 L69.79,447.94 L70.37,451.69 L70.96,455.29 L71.57,458.77 L72.20,462.11 L72.84,465.33 L73.49,468.42 L74.16,471.40 L74.84,474.26 L75.54,477.02 L76.25,479.68 L76.97,482.25 L77.71,484.73 L78.47,487.14 L79.23,489.47 L80.02,491.73 L80.81,493.93 L81.62,496.06 L82.45,498.13 L83.29,500.12 L84.14,502.05 L85.01,503.91 L85.90,505.69 L86.79,507.39 L87.70,509.02 L88.63,510.58 L89.57,512.05 L90.53,513.46 L91.49,514.79 L92.48,516.05 L93.48,517.24 L94.49,518.37 L95.51,519.43 L96.56,520.44 L97.61,521.39 L98.68,522.29 L99.76,523.14 L100.86,523.94 L101.98,524.69 L103.10,525.41 L104.24,526.09 L105.40,526.73 L106.57,527.34 L107.75,527.92 L108.95,528.47 L110.17,529.00 L111.39,529.50 L112.64,529.98 L113.89,530.45 L115.16,530.89 L116.45,531.31 L117.75,531.72 L119.06,532.11 L120.39,532.48 L121.73,532.83 L123.09,533.17 L124.46,533.49 L125.84,533.79 L127.24,534.08 L128.66,534.35 L130.09,534.60 L131.53,534.85 L132.99,535.07 L134.46,535.29 L135.95,535.49 L137.45,535.69 L138.96,535.87 L140.49,536.05 L142.03,536.21 L143.59,536.37 L145.16,536.53 L146.75,536.67 L148.35,536.81 L149.97,536.95 L151.60,537.08 L153.24,537.20 L154.90,537.32 L156.57,537.44 L158.26,537.55 L159.96,537.65 L161.67,537.75 L163.40,537.85 L165.15,537.94 L166.91,538.02 L168.68,538.10 L170.47,538.18 L172.27,538.25 L174.09,538.32 L175.92,538.39 L177.76,538.45 L179.62,538.51 L181.49,538.56 L183.38,538.61 L185.28,538.66 L187.20,538.71 L189.13,538.75 L191.08,538.79 L193.04,538.83 L195.01,538.87 L197.00,538.90 L199.00,538.93 L201.02,538.96 L203.05,538.99 L205.10,539.02 L207.16,539.04 L209.23,539.06 L211.32,539.09 L213.43,539.11 L215.54,539.13 L217.68,539.15 L219.82,539.16 L221.98,539.18 L224.16,539.20 L226.35,539.21 L228.55,539.23 L230.77,539.24 L233.00,539.25 L235.25,539.26 L237.51,539.27 L239.79,539.29 L242.08,539.30 L244.38,539.30 L246.70,539.31 L249.03,539.32 L251.38,539.33 L253.74,539.34 L256.12,539.34 L258.51,539.35 L260.91,539.36 L263.33,539.36 L265.77,539.37 L268.21,539.37 L270.68,539.38 L273.15,539.38 L275.64,539.39 L278.15,539.39 L280.67,539.39 L283.20,539.40 L285.75,539.40 L288.31,539.40 L290.89,539.41 L293.48,539.41 L296.09,539.41 L298.71,539.41 L301.34,539.42 L303.99,539.42 L306.66,539.42 L309.33,539.42 L312.03,539.42 L314.73,539.43 L317.45,539.43 L320.19,539.43 L322.94,539.43 L325.70,539.43 L328.48,539.43 L331.27,539.43 L334.08,539.44 L336.90,539.44 L339.74,539.44 L342.59,539.44 L345.45,539.44 L348.33,539.44 L351.22,539.44 L354.13,539.44 L357.05,539.44 L359.99,539.44 L362.94,539.44 L365.90,539.45 L368.88,539.45 L371.87,539.45 L374.88,539.45 L377.91,539.45 L380.94,539.45 L383.99,539.45 L387.06,539.45 L390.14,539.45 L393.23,539.45 L396.34,539.45 L399.46,539.45 L402.60,539.45" stroke="#008000" stroke-width="2" stroke-dasharray="2.6 3.2" fill="none"/>
<path d="M58.30,294.15 L58.31,294.29 L58.33,294.69 L58.36,295.36 L58.41,296.29 L58.48,297.48 L58.56,298.94 L58.65,300.67 L58.76,302.66 L58.88,304.91 L59.02,307.42 L59.17,310.19 L59.33,313.22 L59.51,316.51 L59.71,320.05 L59.92,323.85 L60.14,327.88 L60.37,332.16 L60.63,336.68 L60.89,341.43 L61.17,346.41 L61.47,351.62 L61.77,357.05 L62.10,362.66 L62.43,368.42 L62.79,374.26 L63.15,380.11 L63.53,385.92 L63.93,391.62 L64.34,397.18 L64.76,402.57 L65.20,407.78 L65.65,412.81 L66.12,417.66 L66.60,422.33 L67.09,426.84 L67.60,431.19 L68.13,435.38 L68.67,439.43 L69.22,443.33 L69.79,447.10 L70.37,450.74 L70.96,454.25 L71.57,457.65 L72.20,460.93 L72.84,464.09 L73.49,467.16 L74.16,470.12 L74.84,472.98 L75.54,475.75 L76.25,478.42 L76.97,481.00 L77.71,483.48 L78.47,485.88 L79.23,488.19 L80.02,490.41 L80.81,492.55 L81.62,494.60 L82.45,496.58 L83.29,498.47 L84.14,500.29 L85.01,502.03 L85.90,503.71 L86.79,505.31 L87.70,506.85 L88.63,508.31 L89.57,509.71 L90.53,511.03 L91.49,512.29 L92.48,513.49 L93.48,514.62 L94.49,515.70 L95.51,516.73 L96.56,517.72 L97.61,518.67 L98.68,519.59 L99.76,520.47 L100.86,521.33 L101.98,522.16 L103.10,522.96 L104.24,523.73 L105.40,524.47 L106.57,525.18 L107.75,525.85 L108.95,526.49 L110.17,527.10 L111.39,527.67 L112.64,528.22 L113.89,528.74 L115.16,529.24 L116.45,529.71 L117.75,530.16 L119.06,530.59 L120.39,531.00 L121.73,531.39 L123.09,531.77 L124.46,532.12 L125.84,532.47 L127.24,532.79 L128.66,533.11 L130.09,533.41 L131.53,533.70 L132.99,533.97 L134.46,534.24 L135.95,534.49 L137.45,534.74 L138.96,534.97 L140.49,535.20 L142.03,535.41 L143.59,535.61 L145.16,535.81 L146.75,536.00 L148.35,536.18 L149.97,536.35 L151.60,536.51 L153.24,536.67 L154.90,536.81 L156.57,536.96 L158.26,537.09 L159.96,537.22 L161.67,537.34 L163.40,537.46 L165.15,537.57 L166.91,537.67 L168.68,537.77 L170.47,537.86 L172.27,537.95 L174.09,538.04 L175.92,538.12 L177.76,538.20 L179.62,538.27 L181.49,538.34 L183.38,538.40 L185.28,538.46 L187.20,538.52 L189.13,538.57 L191.08,538.62 L193.04,538.67 L195.01,538.72 L197.00,538.76 L199.00,538.80 L201.02,538.84 L203.05,538.88 L205.10,538.91 L207.16,538.95 L209.23,538.98 L211.32,539.00 L213.43,539.03 L215.54,539.06 L217.68,539.08 L219.82,539.10 L221.98,539.13 L224.16,539.15 L226.35,539.17 L228.55,539.18 L230.77,539.20 L233.00,539.22 L235.25,539.23 L237.51,539.25 L239.79,539.26 L242.08,539.27 L244.38,539.28 L246.70,539.30 L249.03,539.31 L251.38,539.32 L253.74,539.32 L256.12,539.33 L258.51,539.34 L260.91,539.35 L263.33,539.35 L265.77,539.36 L268.21,539.37 L270.68,539.37 L273.15,539.38 L275.64,539.38 L278.15,539.39 L280.67,539.39 L283.20,539.39 L285.75,539.40 L288.31,539.40 L290.89,539.40 L293.48,539.41 L296.09,539.41 L298.71,539.41 L301.34,539.42 L303.99,539.42 L306.66,539.42 L309.33,539.42 L312.03,539.42 L314.73,539.43 L317.45,539.43 L320.19,539.43 L322.94,539.43 L325.70,539.43 L328.48,539.43 L331.27,539.43 L334.08,539.44 L336.90,539.44 L339.74,539.44 L342.59,539.44 L345.45,539.44 L348.33,539.44 L351.22,539.44 L354.13,539.44 L357.05,539.44 L359.99,539.44 L362.94,539.44 L365.90,539.45 L368.88,539.45 L371.87,539.45 L374.88,539.45 L377.91,539.45 L380.94,539.45 L383.99,539.45 L387.06,539.45 L390.14,539.45 L393.23,539.45 L396.34,539.45 L399.46,539.45 L402.60,539.45" stroke="#0000a8" stroke-width="1.9" stroke-dasharray="1.5 1.6" fill="none"/>
<path d="M58.30,294.15 L58.31,294.29 L58.33,294.69 L58.36,295.36 L58.41,296.29 L58.48,297.48 L58.56,298.94 L58.65,300.67 L58.76,302.66 L58.88,304.91 L59.02,307.42 L59.17,310.19 L59.33,313.22 L59.51,316.51 L59.71,320.05 L59.92,323.85 L60.14,327.89 L60.37,332.16 L60.63,336.68 L60.89,341.43 L61.17,346.41 L61.47,351.63 L61.77,357.06 L62.10,362.67 L62.43,368.43 L62.79,374.27 L63.15,380.12 L63.53,385.91 L63.93,391.60 L64.34,397.15 L64.76,402.51 L65.20,407.69 L65.65,412.68 L66.12,417.47 L66.60,422.08 L67.09,426.50 L67.60,430.75 L68.13,434.82 L68.67,438.74 L69.22,442.49 L69.79,446.10 L70.37,449.58 L70.96,452.92 L71.57,456.14 L72.20,459.25 L72.84,462.26 L73.49,465.16 L74.16,467.97 L74.84,470.68 L75.54,473.32 L76.25,475.86 L76.97,478.33 L77.71,480.72 L78.47,483.03 L79.23,485.27 L80.02,487.44 L80.81,489.54 L81.62,491.58 L82.45,493.55 L83.29,495.45 L84.14,497.30 L85.01,499.07 L85.90,500.78 L86.79,502.41 L87.70,503.97 L88.63,505.46 L89.57,506.87 L90.53,508.21 L91.49,509.48 L92.48,510.69 L93.48,511.84 L94.49,512.93 L95.51,513.97 L96.56,514.98 L97.61,515.95 L98.68,516.88 L99.76,517.79 L100.86,518.67 L101.98,519.52 L103.10,520.35 L104.24,521.16 L105.40,521.93 L106.57,522.68 L107.75,523.40 L108.95,524.09 L110.17,524.75 L111.39,525.38 L112.64,525.98 L113.89,526.55 L115.16,527.10 L116.45,527.62 L117.75,528.11 L119.06,528.58 L120.39,529.03 L121.73,529.45 L123.09,529.86 L124.46,530.26 L125.84,530.64 L127.24,531.00 L128.66,531.36 L130.09,531.71 L131.53,532.04 L132.99,532.37 L134.46,532.69 L135.95,532.99 L137.45,533.29 L138.96,533.59 L140.49,533.87 L142.03,534.14 L143.59,534.40 L145.16,534.66 L146.75,534.90 L148.35,535.13 L149.97,535.36 L151.60,535.57 L153.24,535.77 L154.90,535.97 L156.57,536.15 L158.26,536.33 L159.96,536.50 L161.67,536.66 L163.40,536.81 L165.15,536.96 L166.91,537.09 L168.68,537.22 L170.47,537.35 L172.27,537.46 L174.09,537.57 L175.92,537.68 L177.76,537.78 L179.62,537.87 L181.49,537.96 L183.38,538.05 L185.28,538.13 L187.20,538.21 L189.13,538.28 L191.08,538.35 L193.04,538.41 L195.01,538.47 L197.00,538.53 L199.00,538.59 L201.02,538.64 L203.05,538.68 L205.10,538.73 L207.16,538.77 L209.23,538.81 L211.32,538.85 L213.43,538.89 L215.54,538.92 L217.68,538.95 L219.82,538.98 L221.98,539.01 L224.16,539.03 L226.35,539.06 L228.55,539.08 L230.77,539.10 L233.00,539.12 L235.25,539.14 L237.51,539.16 L239.79,539.18 L242.08,539.19 L244.38,539.21 L246.70,539.22 L249.03,539.23 L251.38,539.25 L253.74,539.26 L256.12,539.27 L258.51,539.28 L260.91,539.29 L263.33,539.30 L265.77,539.30 L268.21,539.31 L270.68,539.32 L273.15,539.33 L275.64,539.33 L278.15,539.34 L280.67,539.35 L283.20,539.35 L285.75,539.36 L288.31,539.36 L290.89,539.37 L293.48,539.37 L296.09,539.37 L298.71,539.38 L301.34,539.38 L303.99,539.39 L306.66,539.39 L309.33,539.39 L312.03,539.40 L314.73,539.40 L317.45,539.40 L320.19,539.41 L322.94,539.41 L325.70,539.41 L328.48,539.41 L331.27,539.42 L334.08,539.42 L336.90,539.42 L339.74,539.42 L342.59,539.43 L345.45,539.43 L348.33,539.43 L351.22,539.43 L354.13,539.43 L357.05,539.43 L359.99,539.44 L362.94,539.44 L365.90,539.44 L368.88,539.44 L371.87,539.44 L374.88,539.44 L377.91,539.44 L380.94,539.44 L383.99,539.44 L387.06,539.45 L390.14,539.45 L393.23,539.45 L396.34,539.45 L399.46,539.45 L402.60,539.45" stroke="#f27f1b" stroke-width="1.9" stroke-dasharray="6.7 2.4 1.3 2.2 1.3 2.3" fill="none"/>
<path d="M58.30,294.15 L58.31,294.29 L58.33,294.69 L58.36,295.36 L58.41,296.29 L58.48,297.48 L58.56,298.94 L58.65,300.67 L58.76,302.66 L58.88,304.91 L59.02,307.42 L59.17,310.19 L59.33,313.22 L59.51,316.51 L59.71,320.05 L59.92,323.85 L60.14,327.88 L60.37,332.16 L60.63,336.67 L60.89,341.42 L61.17,346.40 L61.47,351.61 L61.77,357.03 L62.10,362.64 L62.43,368.40 L62.79,374.24 L63.15,380.11 L63.53,385.94 L63.93,391.68 L64.34,397.29 L64.76,402.74 L65.20,408.03 L65.65,413.15 L66.12,418.10 L66.60,422.88 L67.09,427.51 L67.60,431.99 L68.13,436.32 L68.67,440.50 L69.22,444.55 L69.79,448.47 L70.37,452.25 L70.96,455.91 L71.57,459.45 L72.20,462.87 L72.84,466.17 L73.49,469.37 L74.16,472.45 L74.84,475.43 L75.54,478.31 L76.25,481.08 L76.97,483.75 L77.71,486.33 L78.47,488.81 L79.23,491.20 L80.02,493.49 L80.81,495.70 L81.62,497.81 L82.45,499.84 L83.29,501.78 L84.14,503.64 L85.01,505.41 L85.90,507.10 L86.79,508.72 L87.70,510.26 L88.63,511.72 L89.57,513.11 L90.53,514.44 L91.49,515.69 L92.48,516.89 L93.48,518.02 L94.49,519.10 L95.51,520.13 L96.56,521.10 L97.61,522.02 L98.68,522.90 L99.76,523.73 L100.86,524.52 L101.98,525.27 L103.10,525.98 L104.24,526.65 L105.40,527.29 L106.57,527.90 L107.75,528.48 L108.95,529.02 L110.17,529.54 L111.39,530.04 L112.64,530.51 L113.89,530.96 L115.16,531.39 L116.45,531.80 L117.75,532.19 L119.06,532.57 L120.39,532.92 L121.73,533.26 L123.09,533.59 L124.46,533.90 L125.84,534.19 L127.24,534.47 L128.66,534.74 L130.09,534.99 L131.53,535.23 L132.99,535.46 L134.46,535.68 L135.95,535.88 L137.45,536.08 L138.96,536.26 L140.49,536.43 L142.03,536.60 L143.59,536.76 L145.16,536.90 L146.75,537.04 L148.35,537.17 L149.97,537.30 L151.60,537.42 L153.24,537.53 L154.90,537.64 L156.57,537.74 L158.26,537.83 L159.96,537.93 L161.67,538.01 L163.40,538.09 L165.15,538.17 L166.91,538.25 L168.68,538.32 L170.47,538.38 L172.27,538.44 L174.09,538.50 L175.92,538.56 L177.76,538.61 L179.62,538.66 L181.49,538.71 L183.38,538.75 L185.28,538.79 L187.20,538.83 L189.13,538.87 L191.08,538.90 L193.04,538.94 L195.01,538.97 L197.00,539.00 L199.00,539.02 L201.02,539.05 L203.05,539.07 L205.10,539.09 L207.16,539.11 L209.23,539.13 L211.32,539.15 L213.43,539.17 L215.54,539.19 L217.68,539.20 L219.82,539.21 L221.98,539.23 L224.16,539.24 L226.35,539.25 L228.55,539.26 L230.77,539.27 L233.00,539.28 L235.25,539.29 L237.51,539.30 L239.79,539.31 L242.08,539.32 L244.38,539.33 L246.70,539.33 L249.03,539.34 L251.38,539.35 L253.74,539.35 L256.12,539.36 L258.51,539.36 L260.91,539.37 L263.33,539.37 L265.77,539.38 L268.21,539.38 L270.68,539.38 L273.15,539.39 L275.64,539.39 L278.15,539.39 L280.67,539.40 L283.20,539.40 L285.75,539.40 L288.31,539.41 L290.89,539.41 L293.48,539.41 L296.09,539.41 L298.71,539.41 L301.34,539.42 L303.99,539.42 L306.66,539.42 L309.33,539.42 L312.03,539.42 L314.73,539.43 L317.45,539.43 L320.19,539.43 L322.94,539.43 L325.70,539.43 L328.48,539.43 L331.27,539.43 L334.08,539.43 L336.90,539.44 L339.74,539.44 L342.59,539.44 L345.45,539.44 L348.33,539.44 L351.22,539.44 L354.13,539.44 L357.05,539.44 L359.99,539.44 L362.94,539.44 L365.90,539.45 L368.88,539.45 L371.87,539.45 L374.88,539.45 L377.91,539.45 L380.94,539.45 L383.99,539.45 L387.06,539.45 L390.14,539.45 L393.23,539.45 L396.34,539.45 L399.46,539.45 L402.60,539.45" stroke="#ff0000" stroke-width="2" fill="none"/>
<path d="M58.30,294.15 L58.31,294.29 L58.33,294.69 L58.36,295.36 L58.41,296.30 L58.48,297.50 L58.56,298.97 L58.65,300.71 L58.76,302.71 L58.88,304.97 L59.02,307.49 L59.17,310.28 L59.33,313.33 L59.51,316.63 L59.71,320.19 L59.92,324.01 L60.14,328.06 L60.37,332.36 L60.63,336.89 L60.89,341.66 L61.17,346.66 L61.47,351.88 L61.77,357.32 L62.10,362.95 L62.43,368.72 L62.79,374.58 L63.15,380.46 L63.53,386.30 L63.93,392.06 L64.34,397.68 L64.76,403.15 L65.20,408.45 L65.65,413.57 L66.12,418.53 L66.60,423.32 L67.09,427.96 L67.60,432.44 L68.13,436.78 L68.67,440.97 L69.22,445.02 L69.79,448.94 L70.37,452.73 L70.96,456.39 L71.57,459.93 L72.20,463.35 L72.84,466.66 L73.49,469.85 L74.16,472.93 L74.84,475.91 L75.54,478.78 L76.25,481.56 L76.97,484.23 L77.71,486.80 L78.47,489.28 L79.23,491.66 L80.02,493.95 L80.81,496.14 L81.62,498.23 L82.45,500.24 L83.29,502.16 L84.14,504.00 L85.01,505.75 L85.90,507.43 L86.79,509.03 L87.70,510.55 L88.63,512.00 L89.57,513.38 L90.53,514.69 L91.49,515.93 L92.48,517.12 L93.48,518.24 L94.49,519.31 L95.51,520.32 L96.56,521.28 L97.61,522.20 L98.68,523.07 L99.76,523.89 L100.86,524.67 L101.98,525.41 L103.10,526.12 L104.24,526.78 L105.40,527.42 L106.57,528.02 L107.75,528.59 L108.95,529.13 L110.17,529.64 L111.39,530.13 L112.64,530.60 L113.89,531.05 L115.16,531.47 L116.45,531.88 L117.75,532.27 L119.06,532.64 L120.39,532.99 L121.73,533.33 L123.09,533.65 L124.46,533.95 L125.84,534.25 L127.24,534.52 L128.66,534.79 L130.09,535.04 L131.53,535.28 L132.99,535.50 L134.46,535.72 L135.95,535.92 L137.45,536.11 L138.96,536.29 L140.49,536.47 L142.03,536.63 L143.59,536.78 L145.16,536.93 L146.75,537.07 L148.35,537.20 L149.97,537.32 L151.60,537.44 L153.24,537.55 L154.90,537.66 L156.57,537.76 L158.26,537.85 L159.96,537.94 L161.67,538.03 L163.40,538.11 L165.15,538.19 L166.91,538.26 L168.68,538.33 L170.47,538.39 L172.27,538.46 L174.09,538.51 L175.92,538.57 L177.76,538.62 L179.62,538.67 L181.49,538.72 L183.38,538.76 L185.28,538.80 L187.20,538.84 L189.13,538.88 L191.08,538.91 L193.04,538.94 L195.01,538.97 L197.00,539.00 L199.00,539.03 L201.02,539.05 L203.05,539.08 L205.10,539.10 L207.16,539.12 L209.23,539.14 L211.32,539.16 L213.43,539.17 L215.54,539.19 L217.68,539.20 L219.82,539.22 L221.98,539.23 L224.16,539.24 L226.35,539.26 L228.55,539.27 L230.77,539.28 L233.00,539.29 L235.25,539.30 L237.51,539.31 L239.79,539.31 L242.08,539.32 L244.38,539.33 L246.70,539.34 L249.03,539.34 L251.38,539.35 L253.74,539.35 L256.12,539.36 L258.51,539.36 L260.91,539.37 L263.33,539.37 L265.77,539.38 L268.21,539.38 L270.68,539.39 L273.15,539.39 L275.64,539.39 L278.15,539.40 L280.67,539.40 L283.20,539.40 L285.75,539.40 L288.31,539.41 L290.89,539.41 L293.48,539.41 L296.09,539.41 L298.71,539.42 L301.34,539.42 L303.99,539.42 L306.66,539.42 L309.33,539.42 L312.03,539.43 L314.73,539.43 L317.45,539.43 L320.19,539.43 L322.94,539.43 L325.70,539.43 L328.48,539.43 L331.27,539.44 L334.08,539.44 L336.90,539.44 L339.74,539.44 L342.59,539.44 L345.45,539.44 L348.33,539.44 L351.22,539.44 L354.13,539.44 L357.05,539.44 L359.99,539.45 L362.94,539.45 L365.90,539.45 L368.88,539.45 L371.87,539.45 L374.88,539.45 L377.91,539.45 L380.94,539.45 L383.99,539.45 L387.06,539.45 L390.14,539.45 L393.23,539.45 L396.34,539.45 L399.46,539.45 L402.60,539.45" stroke="#5c5c5c" stroke-width="2.2" stroke-dasharray="4.7 2.15" fill="none"/>
</g>
<rect x="58.30" y="269.50" width="344.30" height="270.10" fill="none" stroke="#000" stroke-width="1.4"/>
<text transform="translate(49.20,544.80) scale(0.94,1.07)" font-size="14" text-anchor="end" font-family="Liberation Sans, sans-serif" >0.0</text>
<text transform="translate(49.20,495.69) scale(0.94,1.07)" font-size="14" text-anchor="end" font-family="Liberation Sans, sans-serif" >0.1</text>
<text transform="translate(49.20,446.58) scale(0.94,1.07)" font-size="14" text-anchor="end" font-family="Liberation Sans, sans-serif" >0.2</text>
<text transform="translate(49.20,397.47) scale(0.94,1.07)" font-size="14" text-anchor="end" font-family="Liberation Sans, sans-serif" >0.3</text>
<text transform="translate(49.20,348.36) scale(0.94,1.07)" font-size="14" text-anchor="end" font-family="Liberation Sans, sans-serif" >0.4</text>
<text transform="translate(49.20,299.25) scale(0.94,1.07)" font-size="14" text-anchor="end" font-family="Liberation Sans, sans-serif" >0.5</text>
<text transform="translate(58.30,558.75) scale(0.94,1.07)" font-size="14" text-anchor="middle" font-family="Liberation Sans, sans-serif" >0</text>
<text transform="translate(113.39,558.75) scale(0.94,1.07)" font-size="14" text-anchor="middle" font-family="Liberation Sans, sans-serif" >2</text>
<text transform="translate(168.48,558.75) scale(0.94,1.07)" font-size="14" text-anchor="middle" font-family="Liberation Sans, sans-serif" >4</text>
<text transform="translate(223.56,558.75) scale(0.94,1.07)" font-size="14" text-anchor="middle" font-family="Liberation Sans, sans-serif" >6</text>
<text transform="translate(278.65,558.75) scale(0.94,1.07)" font-size="14" text-anchor="middle" font-family="Liberation Sans, sans-serif" >8</text>
<text transform="translate(333.74,558.75) scale(0.94,1.07)" font-size="14" text-anchor="middle" font-family="Liberation Sans, sans-serif" >10</text>
<text transform="translate(388.83,558.75) scale(0.94,1.07)" font-size="14" text-anchor="middle" font-family="Liberation Sans, sans-serif" >12</text>
<text transform="translate(228.00,579.80) scale(1.0,1.0)" font-size="19" text-anchor="middle" font-family="Liberation Serif, serif" >τ</text>
<text transform="translate(13.30,281.20) scale(1.13,1.0)" font-size="14" text-anchor="middle" font-family="Liberation Sans, sans-serif" >(b)</text>
<g transform="translate(15.4,404.3) rotate(-90)"><text transform="translate(0.00,0.00) scale(1.03,1.05)" font-size="16" text-anchor="middle" font-family="Liberation Sans, sans-serif" >G(<tspan font-family="Liberation Serif, serif" font-size="16">τ</tspan>)</text></g>
<text transform="translate(141.50,456.80) scale(1.005,1.05)" font-size="16" text-anchor="start" font-family="Liberation Sans, sans-serif" >T = 0.04, U = 5.10</text>
<rect x="182.6" y="286.3" width="203.6" height="105.30000000000001" fill="#fff"/>
<path d="M201.11,391.60v-7.5 M201.11,286.30v7.5 M293.65,391.60v-7.5 M293.65,286.30v7.5 M386.20,391.60v-7.5 M386.20,286.30v7.5 M247.38,391.60v-3.8 M247.38,286.30v3.8 M339.93,391.60v-3.8 M339.93,286.30v3.8 M182.60,325.79h7.5 M386.20,325.79h-7.5 M182.60,378.44h3.8 M386.20,378.44h-3.8 M182.60,365.28h3.8 M386.20,365.28h-3.8 M182.60,352.11h3.8 M386.20,352.11h-3.8 M182.60,338.95h3.8 M386.20,338.95h-3.8 M182.60,312.62h3.8 M386.20,312.62h-3.8 M182.60,299.46h3.8 M386.20,299.46h-3.8 " stroke="#000" stroke-width="1.4" fill="none"/>
<g clip-path="url(#cib)">
<path d="M173.35,243.39 L175.79,249.67 L178.23,255.66 L180.68,261.38 L183.12,266.85 L185.56,272.08 L188.01,277.09 L190.45,281.89 L192.89,286.47 L195.34,290.86 L197.78,295.05 L200.23,299.04 L202.67,302.84 L205.11,306.47 L207.56,309.92 L210.00,313.19 L212.44,316.31 L214.89,319.27 L217.33,322.08 L219.77,324.75 L222.22,327.29 L224.66,329.70 L227.11,331.99 L229.55,334.17 L231.99,336.24 L234.44,338.21 L236.88,340.09 L239.32,341.87 L241.77,343.57 L244.21,345.19 L246.65,346.73 L249.10,348.20 L251.54,349.60 L253.98,350.95 L256.43,352.23 L258.87,353.46 L261.32,354.63 L263.76,355.76 L266.20,356.84 L268.65,357.88 L271.09,358.88 L273.53,359.84 L275.98,360.76 L278.42,361.65 L280.86,362.51 L283.31,363.34 L285.75,364.15 L288.20,364.93 L290.64,365.68 L293.08,366.41 L295.53,367.12 L297.97,367.80 L300.41,368.47 L302.86,369.11 L305.30,369.74 L307.74,370.35 L310.19,370.93 L312.63,371.50 L315.08,372.05 L317.52,372.59 L319.96,373.11 L322.41,373.61 L324.85,374.09 L327.29,374.56 L329.74,375.02 L332.18,375.46 L334.62,375.88 L337.07,376.29 L339.51,376.69 L341.95,377.07 L344.40,377.44 L346.84,377.80 L349.29,378.14 L351.73,378.48 L354.17,378.80 L356.62,379.11 L359.06,379.41 L361.50,379.71 L363.95,379.99 L366.39,380.26 L368.83,380.53 L371.28,380.78 L373.72,381.03 L376.17,381.28 L378.61,381.51 L381.05,381.74 L383.50,381.96 L385.94,382.18 L388.38,382.39 L390.83,382.60" stroke="#008000" stroke-width="2" stroke-dasharray="2.6 3.2" fill="none"/>
<path d="M173.35,240.05 L175.79,246.31 L178.23,252.25 L180.68,257.88 L183.12,263.21 L185.56,268.28 L188.01,273.09 L190.45,277.66 L192.89,282.00 L195.34,286.14 L197.78,290.08 L200.23,293.84 L202.67,297.41 L205.11,300.82 L207.56,304.07 L210.00,307.16 L212.44,310.11 L214.89,312.90 L217.33,315.56 L219.77,318.09 L222.22,320.49 L224.66,322.78 L227.11,324.95 L229.55,327.04 L231.99,329.03 L234.44,330.94 L236.88,332.79 L239.32,334.56 L241.77,336.28 L244.21,337.94 L246.65,339.55 L249.10,341.11 L251.54,342.62 L253.98,344.09 L256.43,345.51 L258.87,346.89 L261.32,348.22 L263.76,349.50 L266.20,350.75 L268.65,351.95 L271.09,353.10 L273.53,354.21 L275.98,355.29 L278.42,356.32 L280.86,357.31 L283.31,358.27 L285.75,359.19 L288.20,360.08 L290.64,360.93 L293.08,361.75 L295.53,362.55 L297.97,363.32 L300.41,364.07 L302.86,364.79 L305.30,365.48 L307.74,366.16 L310.19,366.80 L312.63,367.43 L315.08,368.04 L317.52,368.63 L319.96,369.21 L322.41,369.76 L324.85,370.30 L327.29,370.82 L329.74,371.33 L332.18,371.83 L334.62,372.31 L337.07,372.77 L339.51,373.23 L341.95,373.67 L344.40,374.10 L346.84,374.52 L349.29,374.93 L351.73,375.33 L354.17,375.71 L356.62,376.09 L359.06,376.46 L361.50,376.82 L363.95,377.16 L366.39,377.50 L368.83,377.84 L371.28,378.16 L373.72,378.47 L376.17,378.78 L378.61,379.08 L381.05,379.37 L383.50,379.66 L385.94,379.93 L388.38,380.20 L390.83,380.47" stroke="#0000a8" stroke-width="1.9" stroke-dasharray="1.5 1.6" fill="none"/>
<path d="M173.35,232.67 L175.79,238.71 L178.23,244.47 L180.68,249.95 L183.12,255.19 L185.56,260.19 L188.01,264.97 L190.45,269.55 L192.89,273.93 L195.34,278.12 L197.78,282.12 L200.23,285.94 L202.67,289.59 L205.11,293.06 L207.56,296.37 L210.00,299.51 L212.44,302.49 L214.89,305.32 L217.33,308.01 L219.77,310.56 L222.22,312.98 L224.66,315.29 L227.11,317.50 L229.55,319.61 L231.99,321.63 L234.44,323.57 L236.88,325.44 L239.32,327.25 L241.77,329.00 L244.21,330.69 L246.65,332.33 L249.10,333.93 L251.54,335.48 L253.98,336.99 L256.43,338.46 L258.87,339.88 L261.32,341.27 L263.76,342.62 L266.20,343.93 L268.65,345.20 L271.09,346.43 L273.53,347.62 L275.98,348.78 L278.42,349.89 L280.86,350.97 L283.31,352.01 L285.75,353.02 L288.20,353.98 L290.64,354.92 L293.08,355.82 L295.53,356.70 L297.97,357.54 L300.41,358.36 L302.86,359.14 L305.30,359.91 L307.74,360.64 L310.19,361.35 L312.63,362.04 L315.08,362.70 L317.52,363.35 L319.96,363.98 L322.41,364.58 L324.85,365.17 L327.29,365.75 L329.74,366.31 L332.18,366.86 L334.62,367.39 L337.07,367.91 L339.51,368.42 L341.95,368.92 L344.40,369.40 L346.84,369.88 L349.29,370.35 L351.73,370.81 L354.17,371.26 L356.62,371.70 L359.06,372.14 L361.50,372.56 L363.95,372.98 L366.39,373.39 L368.83,373.80 L371.28,374.19 L373.72,374.58 L376.17,374.96 L378.61,375.33 L381.05,375.70 L383.50,376.06 L385.94,376.41 L388.38,376.76 L390.83,377.09" stroke="#f27f1b" stroke-width="1.9" stroke-dasharray="6.7 2.4 1.3 2.2 1.3 2.3" fill="none"/>
<path d="M173.35,247.63 L175.79,254.12 L178.23,260.26 L180.68,266.07 L183.12,271.58 L185.56,276.80 L188.01,281.75 L190.45,286.44 L192.89,290.89 L195.34,295.11 L197.78,299.12 L200.23,302.92 L202.67,306.53 L205.11,309.95 L207.56,313.20 L210.00,316.29 L212.44,319.23 L214.89,322.02 L217.33,324.68 L219.77,327.20 L222.22,329.61 L224.66,331.90 L227.11,334.08 L229.55,336.16 L231.99,338.15 L234.44,340.04 L236.88,341.86 L239.32,343.58 L241.77,345.24 L244.21,346.82 L246.65,348.33 L249.10,349.78 L251.54,351.17 L253.98,352.49 L256.43,353.76 L258.87,354.98 L261.32,356.15 L263.76,357.27 L266.20,358.35 L268.65,359.38 L271.09,360.38 L273.53,361.33 L275.98,362.25 L278.42,363.13 L280.86,363.98 L283.31,364.80 L285.75,365.59 L288.20,366.36 L290.64,367.09 L293.08,367.80 L295.53,368.49 L297.97,369.16 L300.41,369.81 L302.86,370.43 L305.30,371.03 L307.74,371.62 L310.19,372.18 L312.63,372.73 L315.08,373.26 L317.52,373.78 L319.96,374.27 L322.41,374.76 L324.85,375.23 L327.29,375.68 L329.74,376.12 L332.18,376.55 L334.62,376.96 L337.07,377.36 L339.51,377.75 L341.95,378.13 L344.40,378.49 L346.84,378.85 L349.29,379.19 L351.73,379.52 L354.17,379.84 L356.62,380.15 L359.06,380.46 L361.50,380.75 L363.95,381.03 L366.39,381.31 L368.83,381.57 L371.28,381.83 L373.72,382.08 L376.17,382.33 L378.61,382.56 L381.05,382.79 L383.50,383.01 L385.94,383.22 L388.38,383.43 L390.83,383.63" stroke="#ff0000" stroke-width="2" fill="none"/>
<path d="M173.35,248.89 L175.79,255.37 L178.23,261.49 L180.68,267.29 L183.12,272.78 L185.56,277.95 L188.01,282.84 L190.45,287.49 L192.89,291.90 L195.34,296.08 L197.78,300.04 L200.23,303.81 L202.67,307.38 L205.11,310.77 L207.56,313.99 L210.00,317.05 L212.44,319.95 L214.89,322.72 L217.33,325.35 L219.77,327.85 L222.22,330.23 L224.66,332.49 L227.11,334.66 L229.55,336.72 L231.99,338.68 L234.44,340.56 L236.88,342.35 L239.32,344.06 L241.77,345.70 L244.21,347.27 L246.65,348.76 L249.10,350.20 L251.54,351.57 L253.98,352.88 L256.43,354.14 L258.87,355.35 L261.32,356.51 L263.76,357.62 L266.20,358.68 L268.65,359.71 L271.09,360.69 L273.53,361.63 L275.98,362.54 L278.42,363.42 L280.86,364.26 L283.31,365.07 L285.75,365.85 L288.20,366.61 L290.64,367.34 L293.08,368.04 L295.53,368.72 L297.97,369.38 L300.41,370.02 L302.86,370.64 L305.30,371.24 L307.74,371.82 L310.19,372.38 L312.63,372.92 L315.08,373.44 L317.52,373.95 L319.96,374.45 L322.41,374.93 L324.85,375.39 L327.29,375.84 L329.74,376.27 L332.18,376.70 L334.62,377.11 L337.07,377.50 L339.51,377.89 L341.95,378.26 L344.40,378.62 L346.84,378.97 L349.29,379.31 L351.73,379.64 L354.17,379.96 L356.62,380.27 L359.06,380.57 L361.50,380.86 L363.95,381.14 L366.39,381.41 L368.83,381.67 L371.28,381.93 L373.72,382.18 L376.17,382.42 L378.61,382.65 L381.05,382.88 L383.50,383.10 L385.94,383.31 L388.38,383.51 L390.83,383.71" stroke="#5c5c5c" stroke-width="2.2" stroke-dasharray="4.7 2.15" fill="none"/>
</g>
<rect x="216.91" y="321.93" width="7.2" height="7.2" fill="none" stroke="#008000" stroke-width="2"/>
<rect x="254.23" y="349.34" width="7.2" height="7.2" fill="none" stroke="#008000" stroke-width="2"/>
<rect x="291.55" y="363.41" width="7.2" height="7.2" fill="none" stroke="#008000" stroke-width="2"/>
<rect x="328.86" y="371.91" width="7.2" height="7.2" fill="none" stroke="#008000" stroke-width="2"/>
<rect x="366.18" y="377.03" width="7.2" height="7.2" fill="none" stroke="#008000" stroke-width="2"/>
<circle cx="237.10" cy="332.95" r="3.9" fill="none" stroke="#0000a8" stroke-width="2.05"/>
<circle cx="301.37" cy="364.35" r="3.9" fill="none" stroke="#0000a8" stroke-width="2.05"/>
<circle cx="365.63" cy="377.40" r="3.9" fill="none" stroke="#0000a8" stroke-width="2.05"/>
<path d="M273.82,342.76 L278.42,350.36 L269.22,350.36 Z" fill="none" stroke="#f27f1b" stroke-width="1.6" stroke-linejoin="miter"/>
<path d="M356.45,366.67 L361.05,374.27 L351.85,374.27 Z" fill="none" stroke="#f27f1b" stroke-width="1.6" stroke-linejoin="miter"/>
<rect x="182.60" y="286.30" width="203.60" height="105.30" fill="none" stroke="#000" stroke-width="1.4"/>
<text transform="translate(174.80,396.70) scale(0.925,0.92)" font-size="14" text-anchor="end" font-family="Liberation Sans, sans-serif" >0.00</text>
<text transform="translate(174.80,330.89) scale(0.925,0.92)" font-size="14" text-anchor="end" font-family="Liberation Sans, sans-serif" >0.05</text>
<text transform="translate(201.11,410.30) scale(0.925,0.92)" font-size="14" text-anchor="middle" font-family="Liberation Sans, sans-serif" >1</text>
<text transform="translate(293.65,410.30) scale(0.925,0.92)" font-size="14" text-anchor="middle" font-family="Liberation Sans, sans-serif" >2</text>
<text transform="translate(386.20,410.30) scale(0.925,0.92)" font-size="14" text-anchor="middle" font-family="Liberation Sans, sans-serif" >3</text>
<text transform="translate(282.30,426.60) scale(1.0,1.0)" font-size="18" text-anchor="middle" font-family="Liberation Serif, serif" >τ</text>
<g transform="translate(139.6,339.5) rotate(-90)"><text transform="translate(0.00,0.00) scale(1.03,1.04)" font-size="15" text-anchor="middle" font-family="Liberation Sans, sans-serif" >G(<tspan font-family="Liberation Serif, serif" font-size="15">τ</tspan>)</text></g>
<text transform="translate(162.00,488.80) scale(1.0,1.0)" font-size="13.3" text-anchor="end" font-family="Liberation Serif, serif" ><tspan font-size="14.6">Δτ</tspan>=0.4</text>
<text transform="translate(162.00,506.80) scale(1.0,1.0)" font-size="13.3" text-anchor="end" font-family="Liberation Serif, serif" ><tspan font-size="14.6">Δτ</tspan>=0.7</text>
<path d="M171.3,484.5H196.6" stroke="#008000" stroke-width="2" stroke-dasharray="2.6 3.2" fill="none"/><rect x="180.80" y="480.90" width="7.2" height="7.2" fill="none" stroke="#008000" stroke-width="2"/>
<path d="M171.3,502.5H196.6" stroke="#0000a8" stroke-width="1.9" stroke-dasharray="1.5 1.6" fill="none"/><circle cx="184.40" cy="502.50" r="3.9" fill="none" stroke="#0000a8" stroke-width="2.05"/>
<text transform="translate(255.60,488.80) scale(1.0,1.0)" font-size="13.3" text-anchor="end" font-family="Liberation Serif, serif" ><tspan font-size="14.6">Δτ</tspan>=0.9</text>
<text y="506.80" font-size="13.3" font-family="Liberation Serif, serif"><tspan x="213.4" font-size="14.6">Δτ</tspan><tspan x="227.7" font-size="21" dy="0.6">→</tspan><tspan x="248.8" dy="-0.6">0</tspan></text>
<path d="M290.3,484.5H264" stroke="#f27f1b" stroke-width="1.9" stroke-dasharray="6.7 2.4 1.3 2.2 1.3 2.3" fill="none"/><path d="M277.30,479.50 L281.90,487.10 L272.70,487.10 Z" fill="none" stroke="#f27f1b" stroke-width="1.6" stroke-linejoin="miter"/>
<path d="M264,502.5H290.3" stroke="#ff0000" stroke-width="2" fill="none"/>
<text transform="translate(348.20,489.40) scale(0.99,1.02)" font-size="14" text-anchor="end" font-family="Liberation Sans, sans-serif" >ED</text>
<path d="M356.6,484.5H382.4" stroke="#5c5c5c" stroke-width="2.2" stroke-dasharray="4.7 2.15" fill="none"/>
</svg>
</body></html>
